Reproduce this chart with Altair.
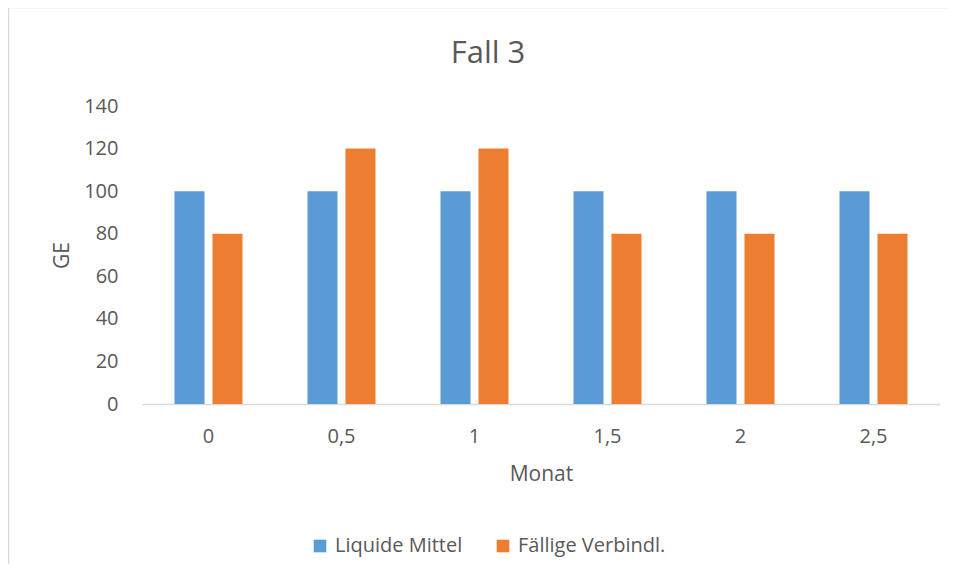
import altair as alt
import pandas as pd

months = ["0", "0,5", "1", "1,5", "2", "2,5"]
liquide = [100, 100, 100, 100, 100, 100]
faellig = [80, 120, 120, 80, 80, 80]
series = ["Liquide Mittel", "Fällige Verbindl."]
colors = ["#5B9BD5", "#ED7D31"]

rows = []
for m, a, b in zip(months, liquide, faellig):
    rows.append({"Monat": m, "Serie": series[0], "GE": a})
    rows.append({"Monat": m, "Serie": series[1], "GE": b})
df = pd.DataFrame(rows)

FONT = "Open Sans"
TXT = "#595959"

bars = alt.Chart(df).mark_bar().encode(
    x=alt.X("Monat:N", sort=months,
            scale=alt.Scale(paddingInner=0, paddingOuter=0),
            axis=alt.Axis(title="Monat", labelAngle=0, ticks=False,
                          domainColor="#D9D9D9", domainWidth=1.5,
                          labelPadding=22, titlePadding=17)),
    xOffset=alt.XOffset("Serie:N", sort=series,
                        scale=alt.Scale(paddingInner=0.21, paddingOuter=0.855)),
    y=alt.Y("GE:Q", scale=alt.Scale(domain=[0, 140]),
            axis=alt.Axis(title="GE", values=[0, 20, 40, 60, 80, 100, 120, 140],
                          grid=False, domain=False, ticks=False,
                          labelPadding=24, titlePadding=11)),
    color=alt.Color("Serie:N", sort=series,
                    scale=alt.Scale(domain=series, range=colors),
                    legend=alt.Legend(title=None, orient="none", direction="horizontal",
                                      legendX=168, legendY=430,
                                      symbolType="square", symbolSize=160,
                                      symbolStrokeWidth=0, columnPadding=30,
                                      labelOffset=5, padding=0)),
)

border_df = pd.DataFrame({"b": [0]})
left_edge = alt.Chart(border_df).mark_rule(color="#D9D9D9", strokeWidth=1.5).encode(
    x=alt.value(-133.5), y=alt.value(-98.5), y2=alt.value(600),
)
top_edge = alt.Chart(border_df).mark_rule(color="#D9D9D9", strokeWidth=1.5).encode(
    x=alt.value(-133.5), x2=alt.value(900), y=alt.value(-98.5),
)

chart = alt.layer(bars, left_edge, top_edge).properties(
    width=798, height=298,
    title=alt.TitleParams("Fall 3", fontSize=31, font=FONT, color=TXT,
                          fontWeight="normal", anchor="middle", dx=-53,
                          baseline="alphabetic", offset=-87),
    autosize=alt.AutoSizeParams(type="none"),
    padding={"left": 134, "top": 98, "right": 8, "bottom": 160},
).configure_view(stroke=None).configure_axis(
    labelFont=FONT, titleFont=FONT, labelColor=TXT, titleColor=TXT,
    labelFontSize=20, titleFontSize=21, titleFontWeight="normal",
).configure_legend(
    labelFont=FONT, labelColor=TXT, labelFontSize=20,
)

chart.save("out.html", embed_options={"renderer": "svg", "actions": False})
